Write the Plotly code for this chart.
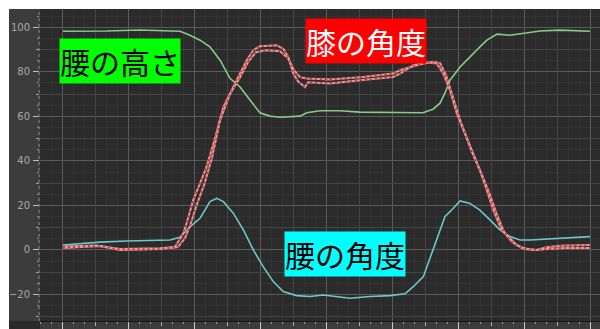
import plotly.graph_objects as go

# ---- hip height (腰の高さ) ----
hip_h_t = [0, 20, 35, 45, 53.2, 57.7, 62.3, 66.8, 71.4, 75.9, 80.5, 85, 89.5, 94.1, 98.6,
           107.7, 110.8, 116.8, 125.9, 135, 153.2, 163.6, 168.2, 171.4, 173.6, 175.9,
           180.5, 186.4, 189.5, 192.7, 197.3, 203.2, 210.9, 216.8, 225.9, 239.5]
hip_h_v = [98.2, 98.3, 98.8, 98.4, 98.2, 96.4, 94.2, 91.2, 85.2, 77.1, 73.2, 67.3, 61.6, 60.1, 59.6,
           60.1, 61.6, 62.5, 62.5, 61.9, 61.6, 61.6, 63.2, 65.9, 70.4, 76.2,
           82.2, 88.3, 91.2, 94.2, 96.9, 96.4, 97.4, 98.3, 98.7, 98.2]

# ---- hip angle (腰の角度) ----
hip_a_t = [0, 16.8, 28.9, 44.1, 48.6, 53.2, 57.7, 62.3, 66.8, 69.9, 72.9, 77.4, 82, 86.5, 91,
           95.6, 100.1, 106.2, 112.3, 118.3, 124.4, 130.5, 139.5, 148.6, 155.5, 159.2,
           163.8, 168.3, 171.4, 173.6, 177.4, 180.5, 185, 189.5, 194.1, 198.6, 203.2,
           207.7, 212.3, 222.9, 233.5, 239.5]
hip_a_v = [2.2, 3.5, 4.0, 4.2, 4.5, 5.7, 10.4, 14.2, 21.7, 23.2, 21.7, 16.5, 9.0, 0, -7.5,
           -14.2, -18.7, -20.5, -20.9, -20.2, -20.9, -21.7, -20.9, -20.5, -19.7, -16.5,
           -12, 0, 9.0, 14.9, 18.7, 22, 20.9, 17.9, 13.5, 9.0, 6.0,
           4.5, 4.5, 5.2, 5.7, 6.0]

# ---- knee angle (膝の角度), two recordings ----
knee_a_t = [0, 15.3, 25.9, 44.1, 50.9, 54.7, 56.2, 59.2, 62.3, 65.3, 69.1, 72.9, 77.4, 80.5,
            83.5, 86.5, 89.5, 97.1, 100.1, 102.4, 104.7, 107, 110, 111.4, 121.4, 135,
            150.1, 153.2, 159.2, 165.3, 169.9, 172.9, 175.9, 179, 185.8, 189.5, 192.6,
            195.6, 199.4, 202.4, 206.2, 210.8, 215.3, 219.9, 225.9, 239.5]
knee_a_v = [1.5, 2.0, 0.4, 0.8, 1.3, 7.5, 12.0, 22.4, 29.9, 37.4, 50.1, 64.3, 73.2, 79.2,
            85.2, 89.7, 91.5, 91.9, 90.4, 86.7, 79.2, 75.5, 73.2, 75.3, 74.8, 76.2,
            77.7, 79.2, 83.0, 84.2, 83.7, 79.2, 71.7, 61.3, 44.8, 35.9, 26.9,
            17.9, 9.0, 6.0, 2.2, 0.3, 0.0, 1.2, 1.9, 2.2]

knee_b_t = [0, 16.8, 25.9, 44.1, 52.3, 55.5, 57.7, 60.9, 64.1, 67.7, 71.4, 75.9, 80.5, 84.1,
            87.7, 92.3, 98.6, 102.3, 105, 107.7, 110.8, 121.4, 136.5, 150.1, 153.2,
            162.3, 168.2, 171.4, 174.1, 176.8, 180.5, 185.9, 190.5, 194.1, 197.3, 200.5,
            204.1, 208.6, 214.5, 220.5, 228.2, 239.5]
knee_b_v = [0.9, 1.8, 0.0, 0.4, 1.3, 5.4, 10.8, 20.6, 29.1, 41.3, 58.3, 70.0, 77.6, 84.3,
            88.8, 89.7, 89.2, 86.1, 80.7, 77.6, 77.0, 76.5, 77.7, 79.2, 80.7,
            83.4, 84.5, 83.9, 78.5, 69.5, 58.3, 43.9, 33.6, 24.7, 15.7, 8.1,
            3.6, 0.9, 0.0, 0.4, 0.9, 0.9]

x_major = [0, 30, 60, 90, 120, 150, 180, 210, 240]
x_major_text = ["", "30", "60", "90", "120", "150", "180", "210", "240"]
x_mid = [15, 45, 75, 105, 135, 165, 195, 225]
x_minor = [v for v in range(-10, 245, 5) if v % 15]
y_major = [-20, 0, 20, 40, 60, 80, 100]
y_mid = [-30, -10, 10, 30, 50, 70, 90]
y_minor = [v for v in range(-30, 110, 5) if v % 10]

X_RANGE = [-10.45, 244.1]
Y_RANGE = [-31.9, 108.2]

fig = go.Figure()

fig.add_trace(go.Scatter(x=hip_h_t, y=hip_h_v, mode="lines",
                         line=dict(color="#86cc86", width=1.6), showlegend=False))
fig.add_trace(go.Scatter(x=hip_a_t, y=hip_a_v, mode="lines",
                         line=dict(color="#6cc9c9", width=1.6), showlegend=False))
for t, v in ((knee_a_t, knee_a_v), (knee_b_t, knee_b_v)):
    fig.add_trace(go.Scatter(x=t, y=v, mode="lines",
                             line=dict(color="#dc9c9c", width=2.0), showlegend=False))
    fig.add_trace(go.Scatter(x=t, y=v, mode="lines",
                             line=dict(color="#d81c1c", width=1.3, dash="2px,3px"),
                             showlegend=False))

# empty trace so the overlay axes get their own subplot
fig.add_trace(go.Scatter(x=[], y=[], xaxis="x2", yaxis="y2", showlegend=False))

tick_font = dict(family="DejaVu Sans", size=10, color="#a9a9a9")

fig.update_layout(
    width=600, height=329,
    margin=dict(l=40, r=0, t=9, b=8, autoexpand=False),
    paper_bgcolor="#ffffff",
    plot_bgcolor="#2b2b2b",
    xaxis=dict(
        range=X_RANGE, tickmode="array", tickvals=x_major, ticktext=x_major_text,
        showgrid=True, gridcolor="#5a5a5a", gridwidth=1, zeroline=False,
        ticks="outside", ticklen=8, tickcolor="#c8c8c8", tickwidth=1,
        tickfont=tick_font, ticklabelshift=10, ticklabelstandoff=-5,
        showline=True, linecolor="#161616", linewidth=1, automargin=False,
        minor=dict(tickmode="array", tickvals=x_minor, ticks="outside", ticklen=2,
                   tickcolor="#a0a0a0", showgrid=True, gridcolor="#333333"),
    ),
    xaxis2=dict(
        range=X_RANGE, overlaying="x", anchor="y2", tickmode="array", tickvals=x_mid,
        showticklabels=False, showgrid=True, gridcolor="#444444", zeroline=False,
        ticks="outside", ticklen=4, tickcolor="#b0b0b0", automargin=False,
    ),
    yaxis=dict(
        range=Y_RANGE, tickmode="array", tickvals=y_major,
        showgrid=True, gridcolor="#5a5a5a", gridwidth=1, zeroline=False,
        ticks="outside", ticklen=6, tickcolor="#bdbdbd", tickwidth=1,
        tickfont=tick_font, ticklabelstandoff=1, automargin=False,
        minor=dict(tickmode="array", tickvals=y_minor, ticks="outside", ticklen=2,
                   tickcolor="#909090", showgrid=True, gridcolor="#333333"),
    ),
    yaxis2=dict(
        range=Y_RANGE, overlaying="y", anchor="x2", tickmode="array", tickvals=y_mid,
        showticklabels=False, showgrid=True, gridcolor="#444444", zeroline=False,
        ticks="outside", ticklen=3, tickcolor="#a0a0a0", automargin=False,
    ),
    shapes=[
        # axis panels around the plot area
        dict(type="rect", xref="paper", yref="paper", x0=-31 / 560, x1=0, y0=0, y1=1,
             fillcolor="#3c3c3c", line=dict(width=0), layer="below"),
        dict(type="rect", xref="paper", yref="paper", x0=0, x1=1, y0=-8 / 312, y1=0,
             fillcolor="#3c3c3c", line=dict(width=0), layer="below"),
        dict(type="rect", xref="paper", yref="paper", x0=-31 / 560, x1=0, y0=-8 / 312, y1=0,
             fillcolor="#2a2a2a", line=dict(width=0), layer="below"),
        dict(type="line", xref="paper", yref="paper", x0=-1 / 560, x1=-1 / 560, y0=0, y1=1,
             line=dict(color="#8a8a8a", width=1, dash="dot"), layer="above"),
    ],
)

label_font = "Noto Sans CJK JP"
fig.add_annotation(x=25.7, y=84.8, xref="x", yref="y", text="腰の高さ", showarrow=False,
                   font=dict(family=label_font, size=30, color="#000000"),
                   bgcolor="#00ff00", borderpad=0)
fig.add_annotation(x=137.7, y=93.9, xref="x", yref="y", text="膝の角度", showarrow=False,
                   font=dict(family=label_font, size=30, color="#ffffff"),
                   bgcolor="#ff0000", borderpad=0)
fig.add_annotation(x=128.0, y=-2.0, xref="x", yref="y", text="腰の角度", showarrow=False,
                   font=dict(family=label_font, size=30, color="#000000"),
                   bgcolor="#00ffff", borderpad=0)

fig.write_html("out.html")
